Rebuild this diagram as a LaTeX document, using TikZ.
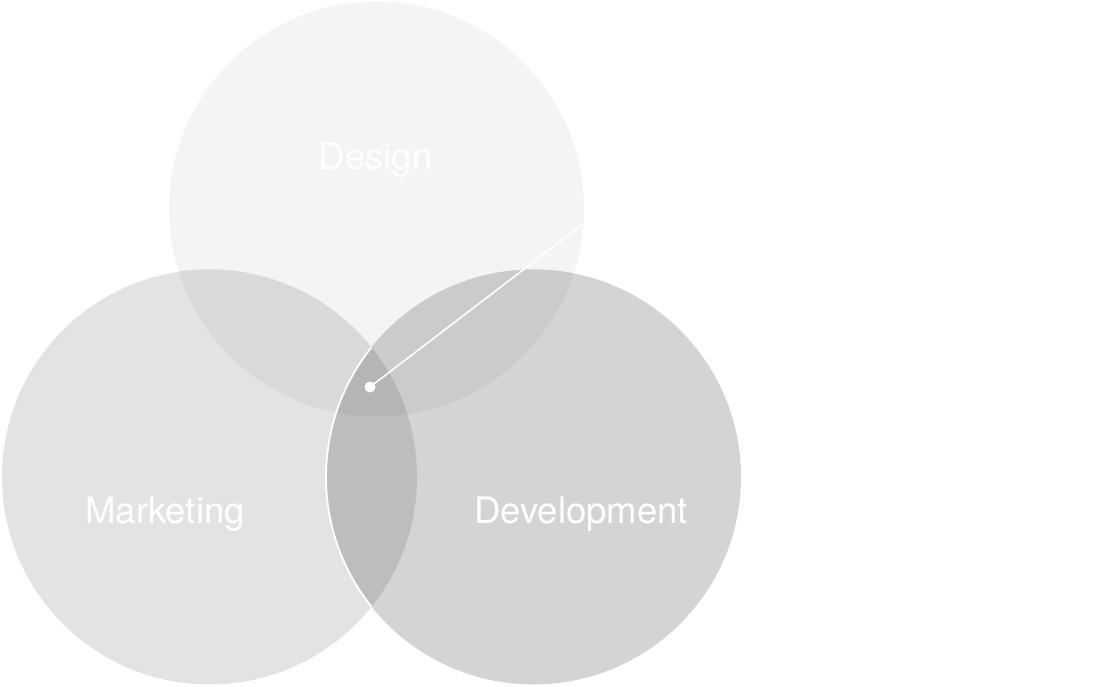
\documentclass[tikz,border=0pt]{standalone}
\usepackage{fontspec}
\setmainfont{TeX Gyre Heros}
\definecolor{cD}{HTML}{F4F4F4}
\definecolor{cM}{HTML}{E3E3E3}
\definecolor{cV}{HTML}{D4D4D4}
\definecolor{cDM}{HTML}{D9D9D9}
\definecolor{cDV}{HTML}{CBCBCB}
\definecolor{cMV}{HTML}{BDBDBD}
\definecolor{cDMV}{HTML}{B5B5B5}
\tikzset{
  lbl/.style={text=white, font=\fontsize{36.5}{40}\selectfont, anchor=base, inner sep=0pt},
  ring/.style={circle, minimum size=415pt, inner sep=0pt},
  pin/.style={draw=white, line width=1.6pt},
  pindot/.style={circle, fill=white, minimum size=11pt, inner sep=0pt}
}
\begin{document}
\begin{tikzpicture}[x=1pt,y=-1pt]
\useasboundingbox (0,0) rectangle (1107,687);
\def\Dc{(376.5,209)}
\def\Mc{(209.5,477)}
\def\Vc{(533.5,477)}
\def\R{207.5}
% single circles
\fill[cD] \Dc circle (\R);
\fill[cM] \Mc circle (\R);
\fill[cV] \Vc circle (\R);
% pairwise overlaps
\begin{scope}\clip \Dc circle (\R); \fill[cDM] \Mc circle (\R); \end{scope}
\begin{scope}\clip \Dc circle (\R); \fill[cDV] \Vc circle (\R); \end{scope}
\begin{scope}\clip \Mc circle (\R); \fill[cMV] \Vc circle (\R); \end{scope}
% triple overlap
\begin{scope}\clip \Dc circle (\R); \clip \Mc circle (\R); \fill[cDMV] \Vc circle (\R); \end{scope}
% white edge of Development inside Marketing
\begin{scope}\clip \Mc circle (\R); \draw[white, line width=1.8pt] \Vc circle (\R); \end{scope}
% named circle nodes
\node[ring] (design) at \Dc {};
\node[ring] (marketing) at \Mc {};
\node[ring] (development) at \Vc {};
% labels
\node[lbl] (tdesign) at (375.5,170) {Design};
\node[lbl] (tmarketing) at (165,523) {Marketing};
\node[lbl] (tdevelopment) at (581,523) {Development};
% pointer
\node[pindot] (dot) at (370,387) {};
\coordinate (edge) at (design.-4.2);
\draw[pin] (dot.center) -- (edge);
\end{tikzpicture}
\end{document}
